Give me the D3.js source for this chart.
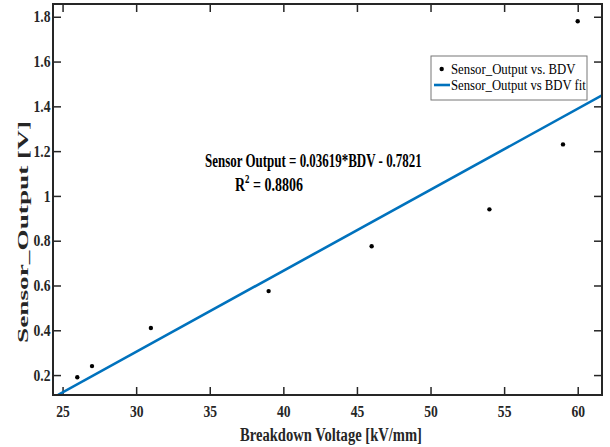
<!DOCTYPE html>
<html>
<head>
<meta charset="utf-8">
<script src="https://cdn.jsdelivr.net/npm/d3@7/dist/d3.min.js"></script>
<style>
  html, body { margin: 0; padding: 0; background: #fff; }
  svg { display: block; }
  text { font-family: "Liberation Serif", "Times New Roman", serif; }
</style>
</head>
<body>
<svg id="chart" width="610" height="447"></svg>
<script>
// ---- data ----
const bdv = [26, 27, 31, 39, 46, 54, 59, 60];
const sensorOutput = [0.19, 0.24, 0.41, 0.575, 0.775, 0.94, 1.23, 1.78];
const fitX = [24.7, 61.65];
const fitY = [0.112, 1.449];
const xTicks = [25, 30, 35, 40, 45, 50, 55, 60];
const xTickLabels = ["25", "30", "35", "40", "45", "50", "55", "60"];
const yTicks = [0.2, 0.4, 0.6, 0.8, 1.0, 1.2, 1.4, 1.6, 1.8];
const yTickLabels = ["0.2", "0.4", "0.6", "0.8", "1", "1.2", "1.4", "1.6", "1.8"];
const xDomain = [24.35, 61.65];
const yDomain = [0.111, 1.857];
const xLabel = "Breakdown Voltage [kV/mm]";
const yLabel = "Sensor_Output [V]";
const eqText = "Sensor Output = 0.03619*BDV - 0.7821";
const r2Value = "0.8806";
const legendLabels = ["Sensor_Output vs. BDV", "Sensor_Output vs BDV fit"];

// ---- layout ----
const L = 53, T = 4, R = 602, B = 395;
const axisColor = "#262626";
const lineColor = "#0072BD";

const svg = d3.select("#chart");
const x = d3.scaleLinear().domain(xDomain).range([L, R]);
const y = d3.scaleLinear().domain(yDomain).range([B, T]);

// helper: horizontally fitted text
function fitText(parent, tx, ty, str, opts, target) {
  const g = parent.append("g").attr("transform", `translate(${tx},${ty})`);
  const t = g.append("text")
    .attr("text-anchor", opts.anchor || "start")
    .attr("font-size", opts.size)
    .attr("font-weight", opts.weight || "normal")
    .attr("fill", opts.fill || axisColor)
    .text(str);
  const w = t.node().getBBox().width;
  const s = target / w;
  g.attr("transform", `translate(${tx},${ty}) ${opts.rotate ? "rotate(" + opts.rotate + ")" : ""} scale(${s},1)`);
  return t;
}

// clip
svg.append("defs").append("clipPath").attr("id", "clip")
  .append("rect").attr("x", L).attr("y", T).attr("width", R - L).attr("height", B - T);

// axes (ticks inward)
const xb = svg.append("g").attr("transform", `translate(0,${B})`)
  .call(d3.axisBottom(x).tickValues(xTicks).tickFormat((d, i) => xTickLabels[i])
    .tickSizeInner(-8).tickSizeOuter(0).tickPadding(10.5));
const xt = svg.append("g").attr("transform", `translate(0,${T})`)
  .call(d3.axisTop(x).tickValues(xTicks).tickFormat("").tickSizeInner(-8).tickSizeOuter(0));
const yl = svg.append("g").attr("transform", `translate(${L},0)`)
  .call(d3.axisLeft(y).tickValues(yTicks).tickFormat((d, i) => yTickLabels[i])
    .tickSizeInner(-8).tickSizeOuter(0).tickPadding(3));
const yr = svg.append("g").attr("transform", `translate(${R},0)`)
  .call(d3.axisRight(y).tickValues(yTicks).tickFormat("").tickSizeInner(-8).tickSizeOuter(0));

[xb, xt, yl, yr].forEach(g => {
  g.select(".domain").remove();
  g.selectAll(".tick line").attr("stroke", axisColor).attr("stroke-width", 1.5);
  g.selectAll("text")
    .attr("font-family", "Liberation Serif")
    .attr("font-size", 16)
    .attr("font-weight", "bold")
    .attr("fill", axisColor);
});
xb.selectAll(".tick text").attr("transform", "scale(0.85,1)");
yl.selectAll(".tick text").attr("transform", "scale(0.85,1)");

// fit line
svg.append("path")
  .datum(fitX.map((d, i) => [d, fitY[i]]))
  .attr("clip-path", "url(#clip)")
  .attr("fill", "none")
  .attr("stroke", lineColor)
  .attr("stroke-width", 2.6)
  .attr("d", d3.line().x(d => x(d[0])).y(d => y(d[1])));

// points
svg.append("g").selectAll("circle")
  .data(bdv.map((d, i) => [d, sensorOutput[i]]))
  .join("circle")
  .attr("cx", d => x(d[0]))
  .attr("cy", d => y(d[1]))
  .attr("r", 2.2)
  .attr("fill", "#000");

// frame
svg.append("rect")
  .attr("x", L).attr("y", T).attr("width", R - L).attr("height", B - T)
  .attr("fill", "none").attr("stroke", axisColor).attr("stroke-width", 2);

// axis labels
fitText(svg, (L + R) / 2 + 3.5, 441, xLabel, {anchor: "middle", size: 19, weight: "bold"}, 182);
fitText(svg, 28, 232, yLabel, {anchor: "middle", size: 15, weight: "bold", rotate: -90}, 222);

// equation
fitText(svg, 205, 166.7, eqText, {size: 19, weight: "bold", fill: "#000"}, 217);
(function () {
  const g = svg.append("g");
  const t = g.append("text").attr("font-size", 19).attr("font-weight", "bold").attr("fill", "#000");
  t.append("tspan").text("R");
  t.append("tspan").attr("font-size", 12).attr("dy", -8).text("2");
  t.append("tspan").attr("dy", 8).text(" = " + r2Value);
  const w = t.node().getBBox().width;
  g.attr("transform", `translate(235,190.7) scale(${68 / w},1)`);
})();

// legend
const lg = svg.append("g");
lg.append("rect").attr("x", 431).attr("y", 56).attr("width", 156).attr("height", 44)
  .attr("fill", "#fff").attr("stroke", "#777").attr("stroke-width", 1);
lg.append("circle").attr("cx", 441.7).attr("cy", 69).attr("r", 2.2).attr("fill", "#000");
lg.append("line").attr("x1", 434).attr("x2", 450).attr("y1", 85).attr("y2", 85)
  .attr("stroke", lineColor).attr("stroke-width", 2.6);
fitText(lg, 451, 73.5, legendLabels[0], {size: 14.5, fill: "#000"}, 125);
fitText(lg, 451, 90, legendLabels[1], {size: 14.5, fill: "#000"}, 135);
</script>
</body>
</html>
